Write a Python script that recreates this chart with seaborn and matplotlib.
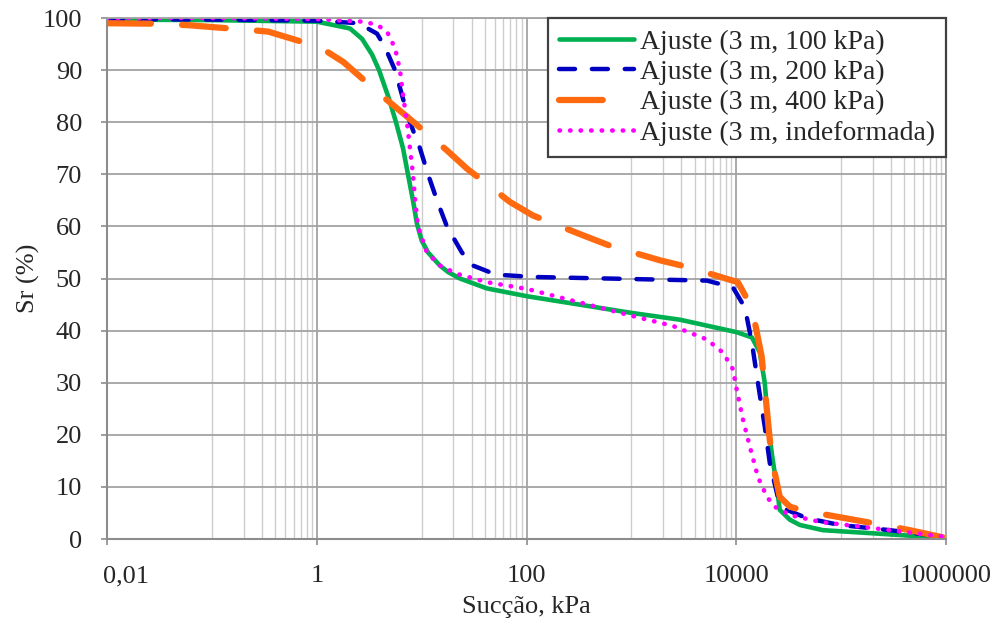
import numpy as np
import pandas as pd
import matplotlib
matplotlib.use("Agg")
import matplotlib.pyplot as plt
import matplotlib.transforms as mtransforms
from matplotlib.ticker import FixedLocator, NullFormatter
import seaborn as sns

# Suction (kPa) and degree of saturation Sr (%) for each fitted curve
suction_100 = [0.01, 0.1, 1, 2.07, 2.7, 3.36, 3.92, 4.88, 5.69, 6.64, 7.4, 8.26, 9.02,
               10.0, 11.5, 14.9, 18.0, 23.2, 41.9, 101, 1000, 2900, 10100, 14100, 16800,
               18700, 20000, 21800, 24400, 26000, 32500, 40400, 67000, 200000, 1000000]
sr_100 = [99.7, 99.6, 99.3, 98.0, 96.0, 93.0, 90.0, 84.5, 80.0, 75.0, 70.0, 65.0, 60.5,
          57.3, 55.0, 52.5, 51.2, 50.0, 48.1, 46.6, 43.4, 42.1, 39.7, 38.7, 35.8,
          30.0, 22.9, 16.5, 10.0, 5.6, 3.7, 2.7, 1.7, 1.1, 0.2]

suction_200 = [0.01, 0.1, 1, 2.5, 3.75, 4.47, 5.57, 6.64, 7.73, 9.63, 11.5, 14.0, 17.4,
               24.2, 30.8, 44.8, 55.7, 115, 1030, 5250, 9300, 12100, 14100, 16100,
               18700, 20900, 24900, 30400, 47100, 97000, 291000, 1000000]
sr_200 = [99.8, 99.7, 99.5, 99.0, 97.0, 94.4, 90.0, 84.5, 80.0, 75.0, 70.0, 65.0, 60.0,
          55.0, 52.5, 51.2, 50.7, 50.3, 49.9, 49.6, 48.3, 44.4, 37.7, 30.0,
          21.6, 14.6, 8.1, 5.6, 4.0, 2.7, 1.7, 0.4]

suction_400 = [0.01, 0.032, 0.062, 0.194, 0.343, 1.07, 1.78, 4.28, 6.93, 17.4, 27.0,
               69.5, 115, 345, 624, 1870, 3460, 10350, 14100, 17500, 20900, 23300,
               26000, 32500, 43100, 74600, 250000, 452000, 1000000]
sr_400 = [99.0, 98.9, 98.6, 97.8, 97.4, 94.4, 91.6, 84.9, 81.4, 74.6, 71.1,
          64.7, 62.1, 58.3, 56.3, 53.5, 52.2, 49.3, 44.4, 35.0, 19.0, 12.7,
          8.1, 6.2, 5.5, 4.6, 2.7, 1.7, 0.2]

suction_und = [0.01, 0.1, 1, 2.76, 3.75, 4.67, 5.57, 6.21, 6.64, 7.24, 7.73, 8.26, 8.63,
               9.22, 11.2, 14.9, 21.7, 41.9, 101, 1030, 2490, 5250, 7450, 9300, 10100,
               11600, 13500, 16100, 19600, 23300, 32500, 62700, 200000, 1000000]
sr_und = [100.0, 100.0, 99.8, 99.3, 98.7, 97.4, 94.2, 90.0, 85.2, 80.0, 75.0, 70.0, 65.3,
          60.0, 55.0, 52.5, 50.9, 49.3, 48.0, 42.8, 40.9, 38.3, 35.8, 32.6, 28.7,
          22.9, 17.7, 11.9, 8.1, 6.2, 4.6, 3.3, 2.1, 0.4]

labels = ["Ajuste (3 m, 100 kPa)", "Ajuste (3 m, 200 kPa)",
          "Ajuste (3 m, 400 kPa)", "Ajuste (3 m, indeformada)"]

major_ticks = [0.01, 1, 100, 10000, 1000000]
major_labels = ["0,01", "1", "100", "10000", "1000000"]
y_ticks = list(range(0, 101, 10))

sns.set_theme(style="white")
plt.rcParams["font.family"] = ["Liberation Serif", "DejaVu Serif"]
plt.rcParams["text.color"] = "#262626"

fig = plt.figure(figsize=(10.01, 6.30), dpi=100)
ax = fig.add_axes([0.107, 0.1444, 0.838, 0.8270])
ax.set_xscale("log")

series = [
    (suction_100, sr_100, labels[0], dict(color="#00B050", lw=3.3, linestyle="-")),
    (suction_200, sr_200, labels[1], dict(color="#0000C0", lw=3.2,
                                           linestyle=(0, (3.6, 3.8)), dash_capstyle="round")),
    (suction_400, sr_400, labels[2], dict(color="#FF6A10", lw=4.5,
                                           linestyle=(0, (7.0, 5.0)), dash_capstyle="round")),
    (suction_und, sr_und, labels[3], dict(color="#FF00FF", lw=3.3,
                                           linestyle=(0, (0.1, 2.2)), dash_capstyle="round")),
]

for xs, ys, lab, style in series:
    df = pd.DataFrame({"Sucção": xs, "Sr": ys})
    sns.lineplot(data=df, x="Sucção", y="Sr", ax=ax, label=lab,
                 estimator=None, sort=False, **style)

ax.set_xlim(0.01, 1000000)
ax.set_ylim(0, 100)

# Major ticks every two decades, minor grid in the odd decades
minor_pos = [m * 10.0 ** e for e in (-1, 1, 3, 5) for m in range(1, 10)]
ax.xaxis.set_major_locator(FixedLocator(major_ticks))
ax.set_xticklabels(major_labels)
ax.xaxis.set_minor_locator(FixedLocator(minor_pos))
ax.xaxis.set_minor_formatter(NullFormatter())
ax.set_yticks(y_ticks)

ax.grid(which="major", axis="both", color="#a3a3a3", lw=1.3)
ax.grid(which="minor", axis="x", color="#cdcdcd", lw=1.0)
ax.set_axisbelow(True)

for side in ["top", "right"]:
    ax.spines[side].set_color("#a3a3a3")
    ax.spines[side].set_linewidth(1.3)
for side in ["left", "bottom"]:
    ax.spines[side].set_color("#8c8c8c")
    ax.spines[side].set_linewidth(1.5)

ax.tick_params(axis="both", which="major", labelsize=19, length=4, width=1.2,
               color="#8c8c8c", direction="out", bottom=True, left=True,
               labelcolor="#262626")
ax.tick_params(axis="x", which="major", pad=15)
ax.tick_params(axis="y", which="major", pad=14)
ax.tick_params(axis="x", which="minor", length=0)

# keep the first x label inside the plotting frame
first = ax.get_xticklabels()[0]
first.set_horizontalalignment("left")
first.set_transform(first.get_transform() +
                    mtransforms.ScaledTranslation(-4 / 100, 0, fig.dpi_scale_trans))

ax.set_xlabel("Sucção, kPa", fontsize=19, labelpad=6, color="#262626")
ax.set_ylabel("Sr (%)", fontsize=19, labelpad=2, color="#262626")

leg = ax.legend(loc="upper right", borderaxespad=0.0, fontsize=20, frameon=True,
                fancybox=False, framealpha=1.0, edgecolor="#404040",
                handlelength=2.7, handletextpad=0.2, labelspacing=0.18,
                borderpad=0.4)
leg.get_frame().set_linewidth(1.6)

fig.savefig("out.png", dpi=100)
